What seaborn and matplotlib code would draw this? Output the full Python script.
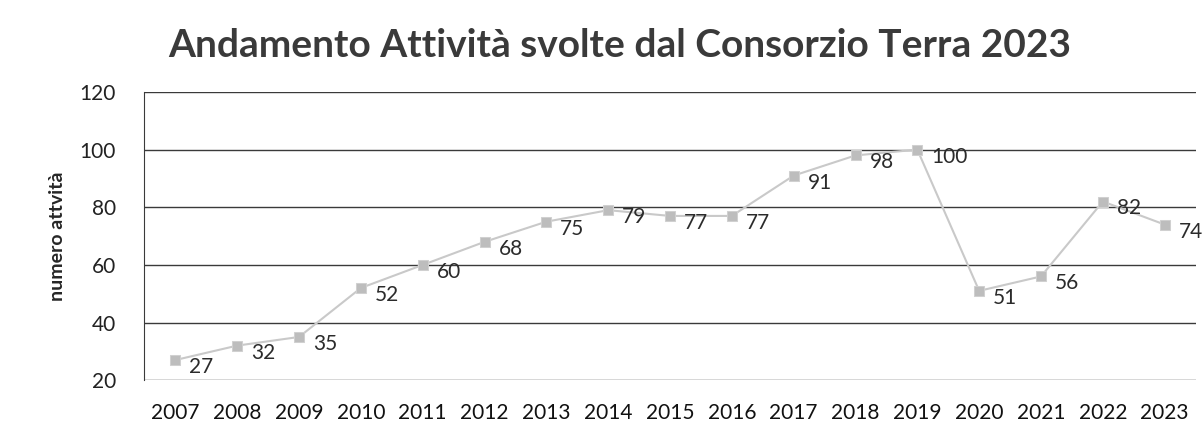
import matplotlib
matplotlib.use("Agg")
import matplotlib.pyplot as plt
import seaborn as sns
import pandas as pd

# data
anni = ["2007", "2008", "2009", "2010", "2011", "2012", "2013", "2014", "2015",
        "2016", "2017", "2018", "2019", "2020", "2021", "2022", "2023"]
attivita = [27, 32, 35, 52, 60, 68, 75, 79, 77, 77, 91, 98, 100, 51, 56, 82, 74]
y_ticks = [20, 40, 60, 80, 100, 120]

df = pd.DataFrame({"anno": anni, "attivita": attivita})

sns.set_style("white")
plt.rcParams["font.family"] = ["Lato", "DejaVu Sans"]

fig = plt.figure(figsize=(12.04, 4.34), dpi=100)
ax = fig.add_axes([0.12, 0.124, 0.873, 0.664])

sns.lineplot(data=df, x="anno", y="attivita", ax=ax, color="#c9c9c9",
             linewidth=1.5, marker="s", markersize=7,
             markerfacecolor="#bdbdbd", markeredgecolor="#d0d0d0", sort=False)

for i, v in enumerate(attivita):
    ax.annotate(str(v), (i, v), xytext=(10, -5), textcoords="offset points",
                fontsize=15, color="#2b2b2b", va="center", ha="left")

ax.set_ylim(20, 120)
ax.set_xlim(-0.5, len(anni) - 0.5)
ax.set_yticks(y_ticks)
ax.yaxis.grid(True, color="#3a3a3a", linewidth=1.0)
ax.set_axisbelow(True)
for s in ["top", "right", "bottom"]:
    ax.spines[s].set_visible(False)
ax.spines["left"].set_color("#3a3a3a")
ax.tick_params(axis="y", labelsize=15, colors="#222222", pad=17)
ax.tick_params(axis="x", labelsize=15, colors="#111111", pad=13)
ax.set_xlabel("")
ax.set_ylabel("numero attvità", fontsize=14, fontweight="bold", labelpad=10)

fig.text(0.515, 0.895, "Andamento Attività svolte dal Consorzio Terra 2023",
         ha="center", va="center", fontsize=28, fontweight="bold", color="#3a3a3a")

fig.savefig("out.png", dpi=100)
